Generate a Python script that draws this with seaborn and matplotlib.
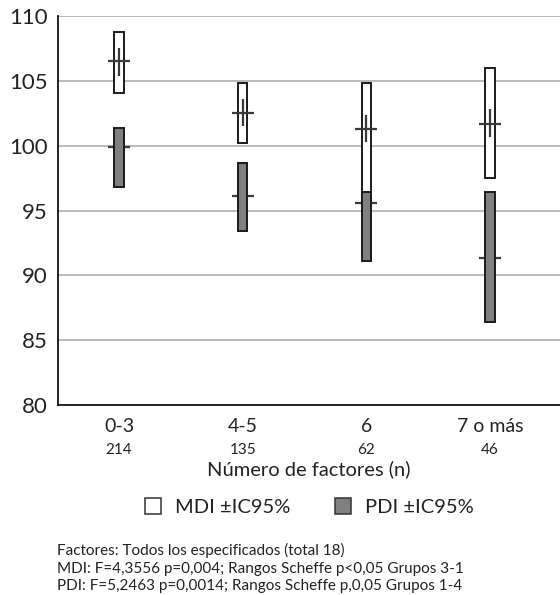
import numpy as np
import pandas as pd
import matplotlib
matplotlib.use("Agg")
import matplotlib.pyplot as plt
import matplotlib.transforms as mtransforms
from matplotlib.patches import Patch
import seaborn as sns

# ---- data ----
categories = ["0-3", "4-5", "6", "7 o más"]
n_counts = [214, 135, 62, 46]

mdi_mean = [106.5, 102.5, 101.3, 101.7]
mdi_low = [104.1, 100.2, 96.4, 97.5]
mdi_high = [108.8, 104.8, 104.8, 106.0]
mdi_se_low = [105.4, 101.5, 100.3, 100.7]
mdi_se_high = [107.5, 103.6, 102.4, 102.8]

pdi_mean = [99.9, 96.1, 95.6, 91.3]
pdi_low = [96.8, 93.4, 91.1, 86.4]
pdi_high = [101.4, 98.7, 96.4, 96.4]

footnote = ["Factores: Todos los especificados (total 18)",
            "MDI: F=4,3556 p=0,004; Rangos Scheffe p<0,05 Grupos 3-1",
            "PDI: F=5,2463 p=0,0014; Rangos Scheffe p,0,05 Grupos 1-4"]

sns.set_style("white")
plt.rcParams['font.family'] = ['Lato', 'DejaVu Sans']

x = np.arange(len(categories))
means = pd.DataFrame({
    "x": np.concatenate([x, x]),
    "valor": mdi_mean + pdi_mean,
    "escala": ["MDI"] * len(x) + ["PDI"] * len(x),
})

fig = plt.figure(figsize=(5.6, 5.95), dpi=100)
ax = fig.add_axes([0.1027, 0.3193, 0.8973, 0.6538])

# grid lines
for v in [85, 90, 95, 100, 105, 110]:
    ax.axhline(v, color="#b4b4b4", lw=1.3, zorder=0)

box_w = 0.076

# PDI mean ticks sit under the filled box
sns.scatterplot(data=means[means.escala == "PDI"], x="x", y="valor", marker="_",
                s=260, color="#3a3a3a", linewidth=1.6, ax=ax, zorder=2, legend=False)
ax.bar(x, np.array(pdi_high) - np.array(pdi_low), bottom=pdi_low, width=box_w,
       color="#808080", edgecolor="#1a1a1a", linewidth=1.4, zorder=3)

ax.bar(x, np.array(mdi_high) - np.array(mdi_low), bottom=mdi_low, width=box_w,
       color="white", edgecolor="#1a1a1a", linewidth=1.4, zorder=4)
ax.vlines(x, mdi_se_low, mdi_se_high, color="#3a3a3a", lw=1.6, zorder=5)
sns.scatterplot(data=means[means.escala == "MDI"], x="x", y="valor", marker="_",
                s=260, color="#3a3a3a", linewidth=1.6, ax=ax, zorder=5, legend=False)

ax.set_xlim(-0.497, 3.566)
ax.set_ylim(80, 110)
ax.set_yticks([80, 85, 90, 95, 100, 105, 110])
ax.set_xticks(x)
ax.set_xticklabels(categories, fontsize=14)
ax.tick_params(axis="y", length=0, labelsize=16, pad=7, colors="#222222")
ax.tick_params(axis="x", length=5, width=2.2, direction="out", color="#111111",
               labelcolor="#222222", pad=4)
ax.set_xlabel("")
ax.set_ylabel("")

for s in ["top", "right"]:
    ax.spines[s].set_visible(False)
for s in ["left", "bottom"]:
    ax.spines[s].set_color("#111111")
    ax.spines[s].set_linewidth(1.3)

# sample sizes under the category labels
trans = mtransforms.blended_transform_factory(ax.transData, ax.transAxes)
for xi, n in zip(x, n_counts):
    ax.text(xi, -0.115, str(n), transform=trans, ha="center", va="center",
            fontsize=11, color="#222222")

fig.text(0.552, 1 - 469 / 595, "Número de factores (n)", ha="center", va="center",
         fontsize=14.5, color="#222222")

handles = [Patch(facecolor="white", edgecolor="#333333", linewidth=1.1),
           Patch(facecolor="#808080", edgecolor="#333333", linewidth=1.1)]
fig.legend(handles, ["MDI ±IC95%", "PDI ±IC95%"], loc="center",
           bbox_to_anchor=(0.552, 1 - 507 / 595), ncol=2, frameon=False,
           fontsize=14.5, handlelength=0.8, handleheight=0.8, handletextpad=0.7,
           columnspacing=2.2, labelcolor="#222222")

fig.text(0.102, 1 - 568 / 595, "\n".join(footnote), ha="left", va="center",
         fontsize=11, linespacing=1.3, color="#222222")

fig.savefig("out.png", dpi=100)
